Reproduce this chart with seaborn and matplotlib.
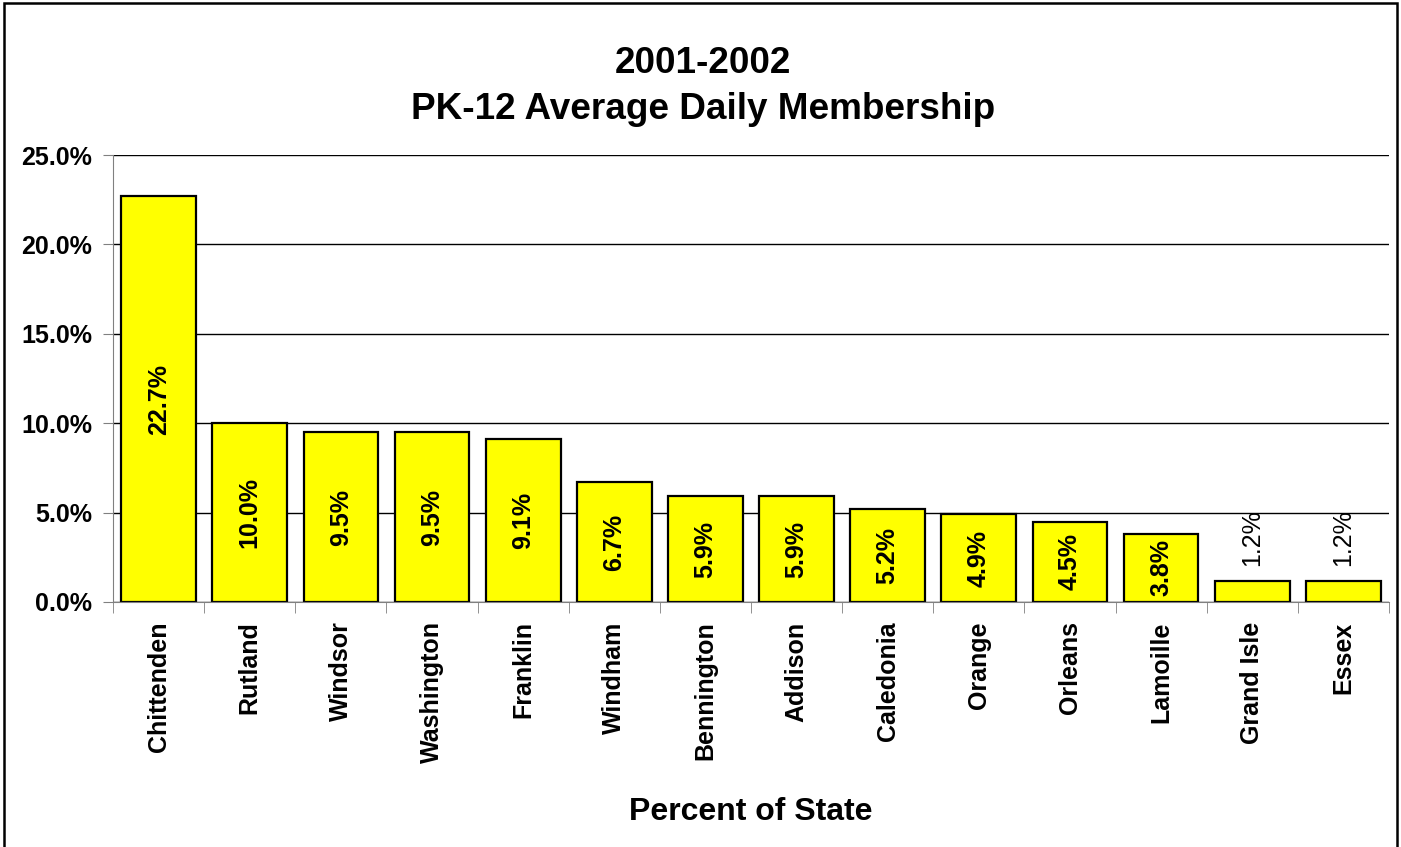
import matplotlib
matplotlib.use("Agg")
import matplotlib.pyplot as plt
import seaborn as sns
import numpy as np
import pandas as pd
from matplotlib.patches import Rectangle
from matplotlib.ticker import PercentFormatter

counties = ["Chittenden", "Rutland", "Windsor", "Washington", "Franklin",
            "Windham", "Bennington", "Addison", "Caledonia", "Orange",
            "Orleans", "Lamoille", "Grand Isle", "Essex"]
percent = [22.7, 10.0, 9.5, 9.5, 9.1, 6.7, 5.9, 5.9, 5.2, 4.9, 4.5, 3.8, 1.2, 1.2]
y_ticks = [0, 5, 10, 15, 20, 25]

df = pd.DataFrame({"county": counties, "percent": percent})

sns.set_style("white")
plt.rcParams["font.family"] = ["Liberation Sans", "DejaVu Sans"]
plt.rcParams["font.weight"] = "bold"
plt.rcParams["text.color"] = "black"
plt.rcParams["xtick.color"] = "black"
plt.rcParams["ytick.color"] = "black"
plt.rcParams["axes.labelcolor"] = "black"

fig = plt.figure(figsize=(14.01, 8.47), dpi=100)
ax = fig.add_axes([0.0807, 0.2893, 0.9107, 0.5277])

sns.barplot(data=df, x="county", y="percent", color="#FFFF00",
            edgecolor="black", linewidth=1.6, width=0.82, saturation=1, ax=ax)

ax.set_ylim(0, 25)
ax.set_xlim(-0.5, len(counties) - 0.5)
ax.set_yticks(y_ticks)
ax.yaxis.set_major_formatter(PercentFormatter(decimals=1))
ax.grid(axis="y", color="black", linewidth=1)
ax.set_axisbelow(True)

for side in ["top", "right"]:
    ax.spines[side].set_visible(False)
ax.spines["left"].set_color("#808080")
ax.spines["bottom"].set_color("#808080")

ax.tick_params(axis="y", labelsize=18, length=7, color="#808080", labelcolor="black",
               pad=8, left=True)
ax.tick_params(axis="x", which="major", labelsize=18, length=0, pad=14, labelcolor="black")
ax.set_xticks(np.arange(-0.5, len(counties)), minor=True)
ax.tick_params(axis="x", which="minor", length=8, color="#808080", bottom=True)
plt.setp(ax.get_xticklabels(), rotation=90, fontweight="bold")
plt.setp(ax.get_yticklabels(), fontweight="bold")

for i, v in enumerate(percent):
    if v > 3:
        ax.text(i, v / 2, f"{v:.1f}%", rotation=90, ha="center", va="center",
                fontsize=18, fontweight="bold", color="black")
    else:
        ax.text(i, v + 0.8, f"{v:.1f}%", rotation=90, ha="center", va="bottom",
                fontsize=18, fontweight="normal", color="black")

ax.set_ylabel("")
ax.set_xlabel("Percent of State", fontsize=23, fontweight="bold", labelpad=24,
              color="black")

fig.text(0.502, 0.898, "2001-2002\nPK-12 Average Daily Membership",
         ha="center", va="center", fontsize=26.6, fontweight="bold", linespacing=1.42,
         color="black")

fig.patches.append(Rectangle((0.003, -0.01), 0.994, 1.007, transform=fig.transFigure,
                             fill=False, edgecolor="black", linewidth=1.8))

fig.savefig("out.png", dpi=100)
